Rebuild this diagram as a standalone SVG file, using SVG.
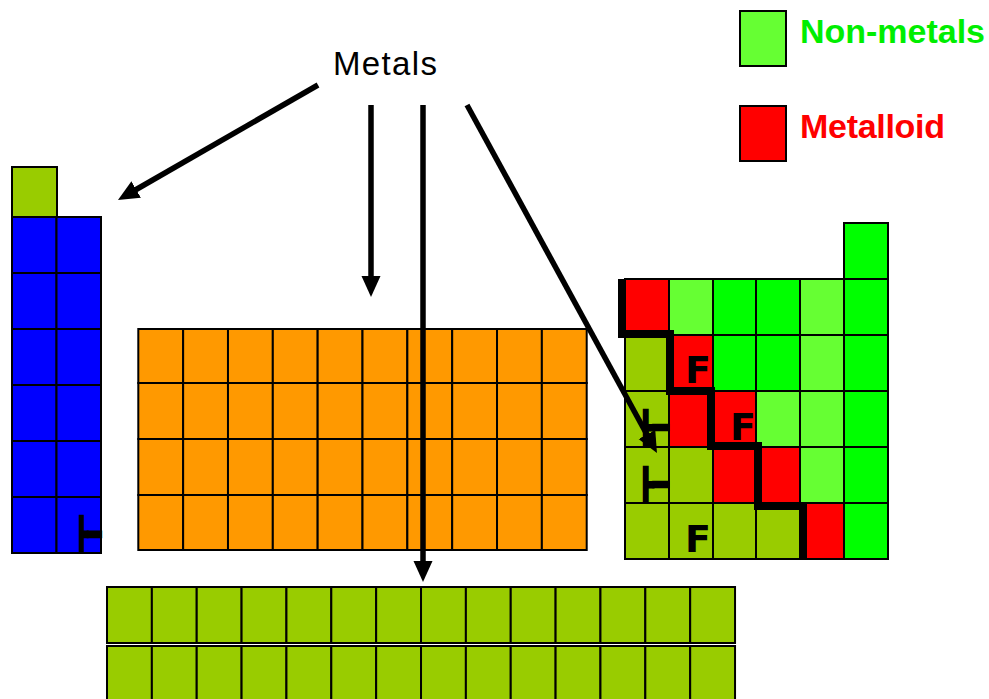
<svg xmlns="http://www.w3.org/2000/svg" width="989" height="699" viewBox="0 0 989 699">
<defs>
<style>
.c{stroke:#000;stroke-width:2}
.bl{fill:#0000FF}
.or{fill:#FF9900}
.ol{fill:#99CC00}
.rd{fill:#FF0000}
.lg{fill:#66FF33}
.gr{fill:#00FF00}
.frag{font-family:"DejaVu Sans",sans-serif;font-weight:bold;fill:#000}
.tack{font-family:"DejaVu Sans Mono",monospace;fill:#000;stroke:#000;stroke-width:2.4}
.arr{stroke:#000;stroke-width:5.5;fill:none}
</style>
<marker id="ah" markerUnits="userSpaceOnUse" markerWidth="22" markerHeight="20" refX="10" refY="9.5" orient="auto" viewBox="0 0 22 20">
<path d="M0,0 L21,9.5 L0,19 Z" fill="#000"/>
</marker>
</defs>
<rect width="989" height="699" fill="#fff"/>

<g id="block-s">
<rect class="c ol" x="12" y="167" width="45" height="50"/>
<rect class="c bl" x="12" y="217" width="44.5" height="56"/><rect class="c bl" x="56.5" y="217" width="44.5" height="56"/>
<rect class="c bl" x="12" y="273" width="44.5" height="56"/><rect class="c bl" x="56.5" y="273" width="44.5" height="56"/>
<rect class="c bl" x="12" y="329" width="44.5" height="56"/><rect class="c bl" x="56.5" y="329" width="44.5" height="56"/>
<rect class="c bl" x="12" y="385" width="44.5" height="56"/><rect class="c bl" x="56.5" y="385" width="44.5" height="56"/>
<rect class="c bl" x="12" y="441" width="44.5" height="56"/><rect class="c bl" x="56.5" y="441" width="44.5" height="56"/>
<rect class="c bl" x="12" y="497" width="44.5" height="56"/><rect class="c bl" x="56.5" y="497" width="44.5" height="56"/>
<text class="tack" x="75" y="545" font-size="31" textLength="26" lengthAdjust="spacingAndGlyphs">┣━</text>
</g>

<g id="block-d">
<g class="c or">
<rect x="138.3" y="329" width="44.84" height="54"/><rect x="183.14" y="329" width="44.84" height="54"/><rect x="227.98" y="329" width="44.84" height="54"/><rect x="272.82" y="329" width="44.84" height="54"/><rect x="317.66" y="329" width="44.84" height="54"/><rect x="362.5" y="329" width="44.84" height="54"/><rect x="407.34" y="329" width="44.84" height="54"/><rect x="452.18" y="329" width="44.84" height="54"/><rect x="497.02" y="329" width="44.84" height="54"/><rect x="541.86" y="329" width="44.84" height="54"/>
<rect x="138.3" y="383" width="44.84" height="56"/><rect x="183.14" y="383" width="44.84" height="56"/><rect x="227.98" y="383" width="44.84" height="56"/><rect x="272.82" y="383" width="44.84" height="56"/><rect x="317.66" y="383" width="44.84" height="56"/><rect x="362.5" y="383" width="44.84" height="56"/><rect x="407.34" y="383" width="44.84" height="56"/><rect x="452.18" y="383" width="44.84" height="56"/><rect x="497.02" y="383" width="44.84" height="56"/><rect x="541.86" y="383" width="44.84" height="56"/>
<rect x="138.3" y="439" width="44.84" height="56"/><rect x="183.14" y="439" width="44.84" height="56"/><rect x="227.98" y="439" width="44.84" height="56"/><rect x="272.82" y="439" width="44.84" height="56"/><rect x="317.66" y="439" width="44.84" height="56"/><rect x="362.5" y="439" width="44.84" height="56"/><rect x="407.34" y="439" width="44.84" height="56"/><rect x="452.18" y="439" width="44.84" height="56"/><rect x="497.02" y="439" width="44.84" height="56"/><rect x="541.86" y="439" width="44.84" height="56"/>
<rect x="138.3" y="495" width="44.84" height="55"/><rect x="183.14" y="495" width="44.84" height="55"/><rect x="227.98" y="495" width="44.84" height="55"/><rect x="272.82" y="495" width="44.84" height="55"/><rect x="317.66" y="495" width="44.84" height="55"/><rect x="362.5" y="495" width="44.84" height="55"/><rect x="407.34" y="495" width="44.84" height="55"/><rect x="452.18" y="495" width="44.84" height="55"/><rect x="497.02" y="495" width="44.84" height="55"/><rect x="541.86" y="495" width="44.84" height="55"/>
</g>
</g>

<g id="block-f">
<g class="c ol">
<rect x="107" y="587" width="44.86" height="56"/><rect x="151.86" y="587" width="44.86" height="56"/><rect x="196.72" y="587" width="44.86" height="56"/><rect x="241.58" y="587" width="44.86" height="56"/><rect x="286.44" y="587" width="44.86" height="56"/><rect x="331.3" y="587" width="44.86" height="56"/><rect x="376.16" y="587" width="44.86" height="56"/><rect x="421.02" y="587" width="44.86" height="56"/><rect x="465.88" y="587" width="44.86" height="56"/><rect x="510.74" y="587" width="44.86" height="56"/><rect x="555.6" y="587" width="44.86" height="56"/><rect x="600.46" y="587" width="44.86" height="56"/><rect x="645.32" y="587" width="44.86" height="56"/><rect x="690.18" y="587" width="44.86" height="56"/>
<rect x="107" y="646" width="44.86" height="58"/><rect x="151.86" y="646" width="44.86" height="58"/><rect x="196.72" y="646" width="44.86" height="58"/><rect x="241.58" y="646" width="44.86" height="58"/><rect x="286.44" y="646" width="44.86" height="58"/><rect x="331.3" y="646" width="44.86" height="58"/><rect x="376.16" y="646" width="44.86" height="58"/><rect x="421.02" y="646" width="44.86" height="58"/><rect x="465.88" y="646" width="44.86" height="58"/><rect x="510.74" y="646" width="44.86" height="58"/><rect x="555.6" y="646" width="44.86" height="58"/><rect x="600.46" y="646" width="44.86" height="58"/><rect x="645.32" y="646" width="44.86" height="58"/><rect x="690.18" y="646" width="44.86" height="58"/>
</g>
</g>

<g id="block-p">
<g class="c">
<rect class="gr" x="844" y="223" width="44" height="56"/>
<rect class="rd" x="625" y="279" width="44" height="56"/><rect class="lg" x="669" y="279" width="44" height="56"/><rect class="gr" x="713" y="279" width="43" height="56"/><rect class="gr" x="756" y="279" width="44" height="56"/><rect class="lg" x="800" y="279" width="44" height="56"/><rect class="gr" x="844" y="279" width="44" height="56"/>
<rect class="ol" x="625" y="335" width="44" height="56"/><rect class="rd" x="669" y="335" width="44" height="56"/><rect class="gr" x="713" y="335" width="43" height="56"/><rect class="gr" x="756" y="335" width="44" height="56"/><rect class="lg" x="800" y="335" width="44" height="56"/><rect class="gr" x="844" y="335" width="44" height="56"/>
<rect class="ol" x="625" y="391" width="44" height="56"/><rect class="rd" x="669" y="391" width="44" height="56"/><rect class="rd" x="713" y="391" width="43" height="56"/><rect class="lg" x="756" y="391" width="44" height="56"/><rect class="lg" x="800" y="391" width="44" height="56"/><rect class="gr" x="844" y="391" width="44" height="56"/>
<rect class="ol" x="625" y="447" width="44" height="56"/><rect class="ol" x="669" y="447" width="44" height="56"/><rect class="rd" x="713" y="447" width="43" height="56"/><rect class="rd" x="756" y="447" width="44" height="56"/><rect class="lg" x="800" y="447" width="44" height="56"/><rect class="gr" x="844" y="447" width="44" height="56"/>
<rect class="ol" x="625" y="503" width="44" height="56"/><rect class="ol" x="669" y="503" width="44" height="56"/><rect class="ol" x="713" y="503" width="43" height="56"/><rect class="ol" x="756" y="503" width="44" height="56"/><rect class="rd" x="800" y="503" width="44" height="56"/><rect class="gr" x="844" y="503" width="44" height="56"/>
</g>
<polyline points="622,279 622,334 670,334 670,391 711,391 711,446 758,446 758,506 803,506 803,559" fill="none" stroke="#000" stroke-width="8" stroke-linejoin="miter"/>
<text class="frag" x="685" y="383" font-size="38">F</text>
<text class="frag" x="730" y="440" font-size="38">F</text>
<text class="frag" x="685" y="552" font-size="38">F</text>
<text class="tack" x="638" y="438" font-size="30" textLength="30" lengthAdjust="spacingAndGlyphs">┣━</text>
<text class="tack" x="638" y="495" font-size="30" textLength="30" lengthAdjust="spacingAndGlyphs">┣━</text>
</g>

<g id="legend-nonmetals">
<rect x="740" y="11" width="46" height="55" fill="#66FF33" stroke="#000" stroke-width="2"/>
<text x="800" y="43" font-family="Liberation Sans, Arial, sans-serif" font-weight="bold" font-size="34" fill="#00EE00" textLength="185">Non-metals</text>
</g>
<g id="legend-metalloid">
<rect x="740" y="106" width="46" height="55" fill="#FF0000" stroke="#000" stroke-width="2"/>
<text x="800" y="138" font-family="Liberation Sans, Arial, sans-serif" font-weight="bold" font-size="34" fill="#FF0000" textLength="145">Metalloid</text>
</g>

<g id="label-metals">
<text x="333" y="75" font-family="Liberation Sans, Arial, sans-serif" font-size="33" fill="#000" textLength="104">Metals</text>
</g>

<g id="connectors">
<line class="arr" x1="318" y1="85" x2="127.5" y2="194.5" marker-end="url(#ah)"/>
<line class="arr" x1="371" y1="105" x2="371" y2="286" marker-end="url(#ah)"/>
<line class="arr" x1="423" y1="105" x2="423" y2="571" marker-end="url(#ah)"/>
<line class="arr" x1="467" y1="105" x2="651.7" y2="443.3" marker-end="url(#ah)"/>
</g>
</svg>
